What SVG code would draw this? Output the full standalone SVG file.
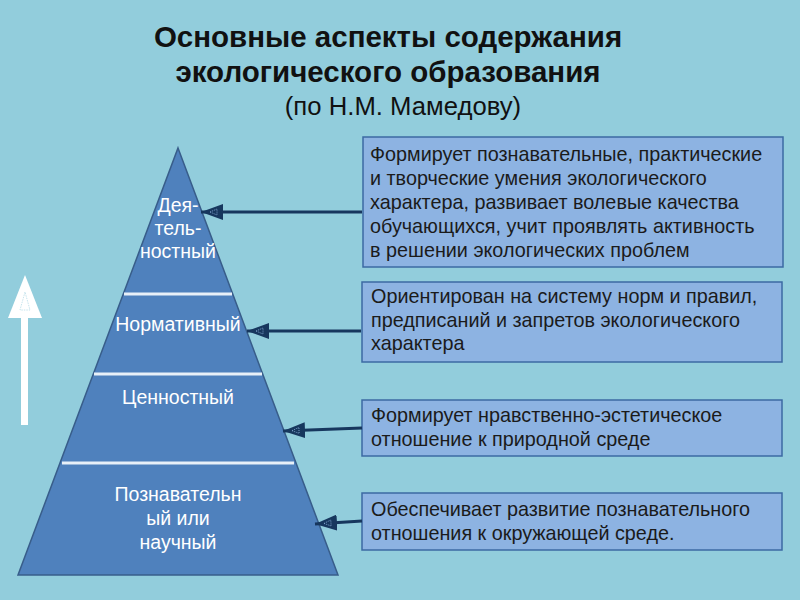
<svg xmlns="http://www.w3.org/2000/svg" width="800" height="600" viewBox="0 0 800 600">
<defs>
<style>
.title{font-family:"Liberation Sans",Arial,sans-serif;font-size:29.5px;font-weight:bold;fill:#111;text-anchor:middle}
.sub{font-family:"Liberation Sans",Arial,sans-serif;font-size:25.7px;fill:#111;text-anchor:middle}
.lvl{font-family:"Liberation Sans",Arial,sans-serif;font-size:19.5px;fill:#fff;text-anchor:middle}
.box rect{fill:#8DB3E2;stroke:#3C6AA3;stroke-width:1.5}
.box text{font-family:"Liberation Sans",Arial,sans-serif;font-size:19.8px;fill:#1b1b1b}
.conn{stroke:#17375E;stroke-width:3;fill:none;marker-end:url(#head)}
.div{stroke:#E8F0F8;stroke-width:3}
</style>
<marker id="head" viewBox="0 0 22 16" refX="22" refY="8" markerWidth="22" markerHeight="16" markerUnits="userSpaceOnUse" orient="auto">
<polygon points="22,8 0,0 0,16" fill="#17375E"/>
<polygon points="13,8 6,5 6,11" fill="none" stroke="#8FB4DE" stroke-width="0.8" stroke-dasharray="1,1"/>
</marker>
</defs>
<rect width="800" height="600" fill="#92CDDC"/>
<g id="title">
<text class="title" x="388" y="47">Основные аспекты содержания</text>
<text class="title" x="388" y="82">экологического образования</text>
<text class="sub" x="403" y="115">(по Н.М. Мамедову)</text>
</g>
<g id="up-arrow">
<rect x="21" y="316" width="7" height="109" fill="#fff"/>
<polygon points="25,275 8,318 42,318" fill="#fff"/>
<polygon points="25,292 20,310 30,310" fill="none" stroke="#B8DDE8" stroke-width="0.8" stroke-dasharray="1.5,1"/>
</g>
<g id="pyramid">
<polygon points="178,148 338,575 18,575" fill="#4F81BD" stroke="#385D8A" stroke-width="1.5"/>
<line class="div" x1="124" y1="294" x2="232" y2="294"/>
<line class="div" x1="94" y1="374" x2="262" y2="374"/>
<line class="div" x1="62" y1="463" x2="294" y2="463"/>
</g>
<g id="level-activity">
<text class="lvl" x="178" y="212">Дея-</text>
<text class="lvl" x="178" y="235">тель-</text>
<text class="lvl" x="178" y="258">ностный</text>
</g>
<g id="level-normative">
<text class="lvl" x="178" y="331">Нормативный</text>
</g>
<g id="level-value">
<text class="lvl" x="178" y="404">Ценностный</text>
</g>
<g id="level-cognitive">
<text class="lvl" x="178" y="501">Познавательн</text>
<text class="lvl" x="178" y="525">ый или</text>
<text class="lvl" x="178" y="549">научный</text>
</g>
<g id="box1" class="box">
<rect x="363" y="137" width="420" height="130"/>
<text x="370" y="161">Формирует познавательные, практические</text>
<text x="370" y="185">и творческие умения экологического</text>
<text x="370" y="209">характера, развивает волевые качества</text>
<text x="370" y="233">обучающихся, учит проявлять активность</text>
<text x="370" y="257">в решении экологических проблем</text>
</g>
<g id="box2" class="box">
<rect x="362" y="282" width="420" height="80"/>
<text x="371" y="303">Ориентирован на систему норм и правил,</text>
<text x="371" y="327">предписаний и запретов экологического</text>
<text x="371" y="350">характера</text>
</g>
<g id="box3" class="box">
<rect x="362" y="400" width="420" height="56"/>
<text x="371" y="422">Формирует нравственно-эстетическое</text>
<text x="371" y="446">отношение к природной среде</text>
</g>
<g id="box4" class="box">
<rect x="362" y="493" width="420" height="57"/>
<text x="371" y="516">Обеспечивает развитие познавательного</text>
<text x="371" y="540">отношения к окружающей среде.</text>
</g>
<g id="connectors">
<path class="conn" d="M362,212 L201,212"/>
<path class="conn" d="M361,331 L247,331"/>
<path class="conn" d="M362,428 L283,431"/>
<path class="conn" d="M362,521 L315,524"/>
</g>
</svg>
